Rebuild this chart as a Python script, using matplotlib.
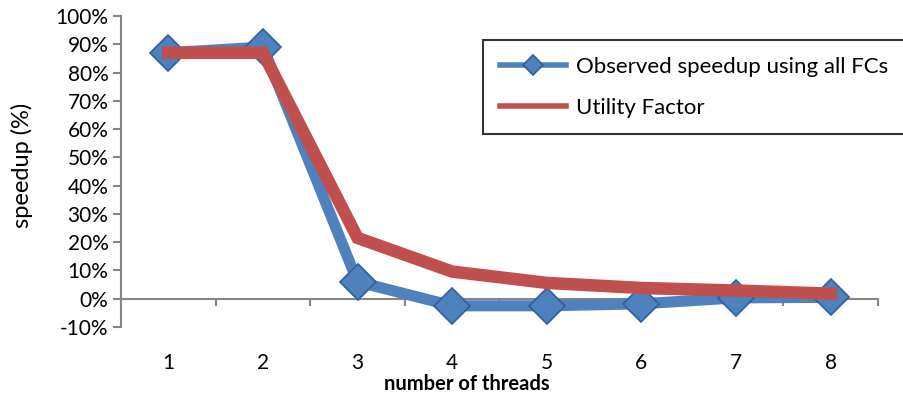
import matplotlib
matplotlib.use("Agg")
import matplotlib.pyplot as plt
from matplotlib.ticker import FuncFormatter, FixedLocator

plt.rcParams['font.family'] = ['Lato', 'DejaVu Sans']

threads = [1, 2, 3, 4, 5, 6, 7, 8]
observed = [87, 89, 6, -2.5, -2.5, -1.8, 0.3, 0.5]
utility = [87, 87, 21.5, 9.6, 5.6, 3.8, 2.9, 1.8]
yticks = [-10, 0, 10, 20, 30, 40, 50, 60, 70, 80, 90, 100]
series_labels = ["Observed speedup using all FCs", "Utility Factor"]

blue = "#4F81BD"
red = "#C0504D"
axis_gray = "#868686"

fig = plt.figure(figsize=(9.04, 3.97), dpi=100)
ax = fig.add_axes([121/904, 1-327/397, (878-121)/904, (327-16)/397])

ax.plot(threads, observed, color=blue, lw=8, marker="D", ms=18,
        mfc=blue, mec="#2F5F9A", mew=1.2, solid_joinstyle="miter",
        label=series_labels[0], zorder=3)
ax.plot(threads, utility, color=red, lw=9, solid_joinstyle="miter",
        label=series_labels[1], zorder=4)

ax.set_xlim(0.5, 8.5)
ax.set_ylim(-10, 100)
ax.set_yticks(yticks)
ax.yaxis.set_major_formatter(FuncFormatter(lambda v, p: f"{v:.0f}%"))

for s in ["top", "right"]:
    ax.spines[s].set_visible(False)
ax.spines["left"].set_color(axis_gray)
ax.spines["left"].set_linewidth(1.5)
ax.spines["bottom"].set_position(("data", 0))
ax.spines["bottom"].set_color(axis_gray)
ax.spines["bottom"].set_linewidth(1.5)

ax.tick_params(axis="y", direction="out", length=6, width=1.5, color=axis_gray,
               labelsize=15, pad=3, labelcolor="black")
bounds = [t - 0.5 for t in threads] + [threads[-1] + 0.5]
ax.xaxis.set_major_locator(FixedLocator(bounds))
ax.tick_params(axis="x", direction="out", length=5, width=1.5, color=axis_gray,
               labelbottom=False)

sec = ax.secondary_xaxis(0)
sec.set_xticks(threads)
sec.set_xticklabels([str(t) for t in threads])
sec.tick_params(axis="x", length=0, pad=19, labelsize=15)
sec.spines["bottom"].set_visible(False)

fig.text(467/904, 1-384/397, "number of threads", ha="center", va="center",
         fontsize=14.5, fontweight="bold")
fig.text(22/904, 1-165/397, "speedup (%)", ha="center", va="center",
         rotation=90, fontsize=17)

leg = ax.legend(loc="upper left", bbox_to_anchor=(483/904, 1-40/397),
                bbox_transform=fig.transFigure, fontsize=16, frameon=True,
                fancybox=False, borderpad=0.75, labelspacing=0.95,
                handlelength=3.0, handletextpad=0.45, borderaxespad=0)
leg.get_frame().set_edgecolor("black")
leg.get_frame().set_linewidth(1.5)
for h in leg.get_lines():
    h.set_linewidth(4)
    h.set_markersize(10)

fig.savefig("out.png", dpi=100)
